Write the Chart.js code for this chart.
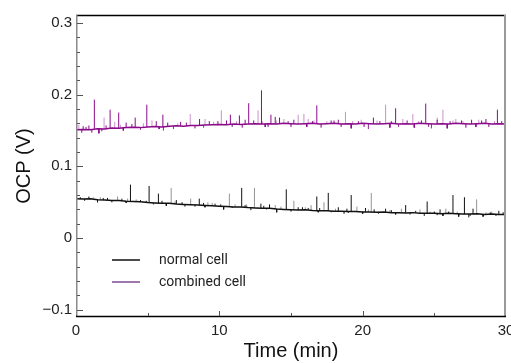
<!DOCTYPE html>
<html><head><meta charset="utf-8">
<script src="https://cdn.jsdelivr.net/npm/chart.js@4/dist/chart.umd.min.js"></script>
<style>html,body{margin:0;padding:0;background:#fff;overflow:hidden}#wrap{width:511px;height:363px}</style>
</head><body><div id="wrap"><canvas id="c" width="511" height="363"></canvas></div>
<script>
// time axis (min)
const times = [0,0.5,1,1.5,2,2.5,3,3.5,4,4.5,5,5.5,6,6.5,7,7.5,8,8.5,9,9.5,10,10.5,11,11.5,12,12.5,13,13.5,14,14.5,15,15.5,16,16.5,17,17.5,18,18.5,19,19.5,20,20.5,21,21.5,22,22.5,23,23.5,24,24.5,25,25.5,26,26.5,27,27.5,28,28.5,29,29.5,30];
// baseline OCP (V)
const normalCell = [0.055,0.0545,0.055,0.0535,0.053,0.0525,0.0525,0.0515,0.051,0.0505,0.0495,0.049,0.0485,0.0485,0.0475,0.047,0.0465,0.046,0.0455,0.045,0.0445,0.044,0.0435,0.0435,0.0425,0.042,0.0415,0.0415,0.0405,0.040,0.0395,0.039,0.0395,0.0385,0.038,0.038,0.0375,0.0375,0.037,0.037,0.0365,0.0365,0.036,0.0365,0.0355,0.0355,0.035,0.0355,0.0345,0.0345,0.0345,0.034,0.0345,0.034,0.0335,0.0335,0.034,0.033,0.0335,0.033,0.033];
const combinedCell = [0.151,0.1515,0.151,0.1525,0.152,0.1535,0.153,0.154,0.1545,0.154,0.155,0.1555,0.155,0.156,0.1565,0.156,0.157,0.157,0.1575,0.158,0.1585,0.158,0.159,0.1585,0.159,0.1595,0.159,0.1595,0.159,0.160,0.1595,0.159,0.1595,0.160,0.159,0.1595,0.160,0.159,0.1595,0.159,0.160,0.1595,0.159,0.1595,0.160,0.159,0.1595,0.159,0.160,0.1595,0.159,0.1595,0.159,0.160,0.1595,0.159,0.1595,0.160,0.159,0.1595,0.159];
// spikes: [time, peak value]
const combinedSpikes = [[1.28,0.193],[2.38,0.179],[2.98,0.175],[4.13,0.168],[4.94,0.186],[6.06,0.172],[8.62,0.166],[10.77,0.172],[11.4,0.171],[12.05,0.188],[12.94,0.206],[13.6,0.172],[13.9,0.169],[14.2,0.168],[16.8,0.185],[17.8,0.164],[20.75,0.168],[22.3,0.181],[24.4,0.1875],[26.9,0.164],[29.4,0.179],[0.5,0.156],[0.9,0.157],[3.5,0.161],[5.6,0.163],[7.3,0.162],[9.3,0.163],[11.8,0.165],[15.2,0.165],[18.3,0.165],[19.7,0.163],[23.1,0.164],[25.2,0.165],[27.6,0.165],[28.6,0.166],[1.6,0.146],[3.3,0.150],[19.2,0.153],[21.9,0.154],[23.6,0.154],[25.9,0.153],[0.7,0.155],[2.1,0.157],[3.9,0.159],[6.4,0.161],[7.7,0.161],[9.9,0.163],[10.5,0.164],[12.4,0.164],[14.8,0.163],[16.5,0.163],[18.0,0.164],[21.2,0.163],[22.0,0.163],[24.1,0.164],[26.1,0.163],[28.3,0.164],[29.7,0.163],[5.8,0.152],[13.2,0.155],[16.1,0.155],[27.9,0.155]];
const combinedFaintSpikes = [[1.96,0.168],[7.97,0.173],[10.14,0.178],[12.7,0.178],[15.5,0.172],[15.9,0.173],[18.8,0.176],[21.6,0.186],[23.5,0.173],[25.2,0.168],[25.6,0.179],[0.2,0.158],[2.7,0.162],[5.3,0.164],[9.0,0.166],[14.5,0.166],[16.2,0.166],[19.9,0.165],[22.8,0.166],[26.5,0.166],[28.1,0.165],[1.1,0.147],[4.5,0.151],[6.8,0.152],[20.4,0.152],[24.8,0.153],[27.2,0.154],[17.1,0.154],[11.6,0.154],[8.3,0.153],[0.4,0.147],[1.8,0.149],[3.1,0.158],[4.7,0.160],[6.1,0.150],[7.1,0.160],[8.9,0.154],[9.6,0.162],[10.9,0.155],[11.2,0.163],[13.0,0.163],[13.4,0.155],[14.0,0.164],[15.0,0.155],[16.6,0.164],[17.5,0.163],[18.5,0.155],[19.3,0.163],[20.1,0.155],[21.0,0.164],[22.5,0.155],[23.9,0.163],[24.6,0.155],[26.3,0.164],[27.0,0.163],[28.8,0.155],[29.2,0.163],[29.9,0.164]];
const normalSpikes = [[3.8,0.0745],[5.1,0.0727],[5.75,0.062],[8.6,0.055],[11.56,0.070],[14.67,0.068],[16.8,0.058],[17.6,0.063],[19.2,0.060],[23.0,0.046],[24.5,0.051],[26.3,0.060],[27.1,0.057],[0.9,0.058],[2.2,0.056],[4.5,0.053],[7.0,0.053],[9.7,0.048],[12.9,0.048],[13.5,0.047],[15.8,0.043],[18.3,0.043],[20.2,0.042],[21.6,0.041],[25.4,0.040],[27.7,0.041],[29.5,0.038],[1.5,0.050],[6.3,0.045],[10.3,0.040],[14.0,0.036],[22.3,0.033],[26.7,0.030],[28.4,0.030],[0.3,0.057],[1.9,0.056],[3.2,0.055],[4.9,0.052],[6.0,0.052],[7.4,0.050],[8.9,0.049],[10.1,0.047],[11.8,0.046],[13.1,0.045],[15.5,0.043],[16.2,0.042],[17.0,0.042],[18.9,0.041],[20.8,0.040],[22.0,0.039],[23.7,0.038],[25.0,0.037],[26.0,0.037],[28.9,0.036],[29.8,0.036],[3.5,0.049],[9.0,0.043],[16.9,0.036],[20.0,0.034],[25.6,0.031]];
const normalFaintSpikes = [[2.9,0.058],[6.64,0.070],[8.0,0.055],[10.7,0.062],[12.45,0.070],[15.2,0.052],[17.3,0.050],[20.6,0.063],[27.95,0.054],[1.2,0.057],[4.2,0.054],[9.2,0.050],[11.1,0.047],[13.9,0.046],[16.4,0.046],[19.6,0.044],[22.7,0.041],[24.0,0.040],[25.8,0.041],[29.0,0.037],[2.5,0.050],[7.6,0.044],[12.2,0.039],[18.7,0.034],[24.3,0.031],[27.4,0.029],[0.6,0.052],[1.7,0.057],[3.6,0.055],[5.4,0.047],[6.9,0.051],[8.3,0.044],[9.5,0.049],[10.9,0.042],[11.9,0.047],[13.3,0.040],[14.3,0.044],[15.0,0.037],[16.0,0.043],[17.8,0.036],[18.1,0.041],[19.0,0.035],[20.4,0.040],[21.1,0.034],[21.9,0.039],[23.3,0.033],[24.7,0.037],[25.2,0.032],[26.6,0.037],[27.5,0.031],[28.6,0.036],[29.3,0.031]];
const seriesNames = ['normal cell','combined cell'];
const xTicks = [0,10,20,30];
const yTicks = [-0.1,0,0.1,0.2,0.3];

const BLACK = '#111111', PURPLE = '#8a0a8a';

function basePts(vals){ return times.map((t,i)=>({x:t,y:vals[i]})); }
function spikePts(spikes, base){
  const out=[];
  spikes.forEach(([t,v])=>{
    const b = base[Math.min(base.length-1, Math.round(t*2))];
    out.push({x:t,y:b},{x:t,y:v},{x:t,y:null});
  });
  return out;
}

const datasets = [
  {label:seriesNames[0], data:basePts(normalCell), borderColor:BLACK, borderWidth:1.5, pointRadius:0, tension:0},
  {label:seriesNames[1], data:basePts(combinedCell), borderColor:PURPLE, borderWidth:1.5, pointRadius:0, tension:0},
  {label:'_ns', data:spikePts(normalSpikes, normalCell), borderColor:BLACK, borderWidth:1, pointRadius:0, spanGaps:false},
  {label:'_nf', data:spikePts(normalFaintSpikes, normalCell), borderColor:'rgba(17,17,17,0.45)', borderWidth:1, pointRadius:0, spanGaps:false},
  {label:'_cs', data:spikePts(combinedSpikes, combinedCell), borderColor:PURPLE, borderWidth:1, pointRadius:0, spanGaps:false},
  {label:'_cf', data:spikePts(combinedFaintSpikes, combinedCell), borderColor:'rgba(138,10,138,0.45)', borderWidth:1, pointRadius:0, spanGaps:false}
];

const framePlugin = {
  id:'frame',
  afterDatasetsDraw(chart){
    const ctx = chart.ctx, a = chart.chartArea, xs = chart.scales.x, ys = chart.scales.y;
    ctx.save();
    ctx.strokeStyle='#000'; ctx.lineWidth=1.5;
    ctx.beginPath(); ctx.moveTo(a.left, a.top+0.5); ctx.lineTo(a.right, a.top+0.5); ctx.stroke();
    ctx.strokeStyle='#9a9a9a'; ctx.lineWidth=2;
    ctx.beginPath(); ctx.moveTo(a.right-1, a.top); ctx.lineTo(a.right-1, a.bottom); ctx.stroke();
    ctx.strokeStyle='#8a8a8a'; ctx.lineWidth=1.5;
    ctx.beginPath(); ctx.moveTo(a.left+0.75, a.top); ctx.lineTo(a.left+0.75, a.bottom); ctx.stroke();
    ctx.strokeStyle='#000'; ctx.lineWidth=1.5;
    ctx.beginPath(); ctx.moveTo(a.left, a.bottom-0.5); ctx.lineTo(a.right, a.bottom-0.5); ctx.stroke();
    ctx.lineWidth=1; ctx.strokeStyle='#555';
    for(let v=5; v<30; v+=5){
      const px = Math.round(xs.getPixelForValue(v))+0.5;
      const len = (v%10===0)?5:3;
      ctx.beginPath(); ctx.moveTo(px, a.bottom-1); ctx.lineTo(px, a.bottom-1-len); ctx.stroke();
    }
    for(let k=-5; k<=15; k++){
      const v = k*0.02;
      const py = Math.round(ys.getPixelForValue(v))+0.5;
      const len = (k%5===0)?6:3;
      ctx.beginPath(); ctx.moveTo(a.left+1, py); ctx.lineTo(a.left+1+len, py); ctx.stroke();
    }
    ctx.font='14px Roboto, "Liberation Sans", Arial, sans-serif';
    ctx.textBaseline='middle'; ctx.fillStyle='#222';
    const legendColors=[BLACK,'#7d4a93'];
    const ly=[260,282];
    seriesNames.forEach((n,i)=>{
      ctx.strokeStyle=legendColors[i]; ctx.lineWidth=1.5;
      ctx.beginPath(); ctx.moveTo(112, ly[i]); ctx.lineTo(140, ly[i]); ctx.stroke();
      ctx.fillText(n, 159, ly[i]);
    });
    ctx.restore();
  }
};

new Chart(document.getElementById('c'), {
  type:'line',
  data:{datasets},
  options:{
    responsive:false, animation:false, devicePixelRatio:1,
    layout:{padding:{top:15,right:5,left:0,bottom:0}},
    plugins:{legend:{display:false}, tooltip:{enabled:false}},
    scales:{
      x:{type:'linear', min:0, max:30,
        afterBuildTicks(s){ s.ticks = xTicks.map(v=>({value:v})); },
        afterFit(s){ s.height=46; s.paddingLeft=0; s.paddingRight=0; },
        grid:{display:false, drawTicks:false}, border:{display:false},
        ticks:{padding:5, color:'#222', font:{size:15, family:'"Liberation Sans", Arial, sans-serif'}, maxRotation:0, autoSkip:false,
          callback:(v)=>String(v)},
        title:{display:true, text:'Time (min)', color:'#111', font:{size:20, family:'"Liberation Sans", Arial, sans-serif'}, padding:{top:3,bottom:0}}
      },
      y:{type:'linear', min:-0.11, max:0.311,
        afterBuildTicks(s){ s.ticks = yTicks.map(v=>({value:v})); },
        afterFit(s){ s.width=76; s.paddingTop=0; s.paddingBottom=0; },
        grid:{display:false, drawTicks:false}, border:{display:false},
        ticks:{padding:4, color:'#222', font:{size:15, family:'"Liberation Sans", Arial, sans-serif'}, autoSkip:false,
          callback:(v)=>{ const r=Math.round(v*10)/10; return r<0 ? '\u2212'+Math.abs(r) : (r===0?'0':String(r)); }},
        title:{display:true, text:'OCP (V)', color:'#111', font:{size:20, family:'"Liberation Sans", Arial, sans-serif'}, padding:{top:12,bottom:6}}
      }
    }
  },
  plugins:[framePlugin]
});
</script></body></html>
